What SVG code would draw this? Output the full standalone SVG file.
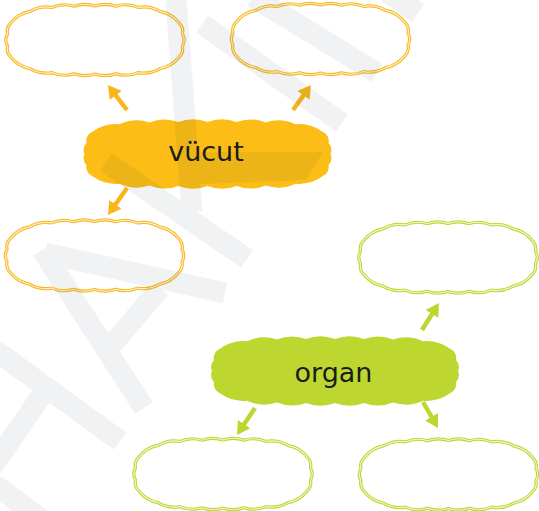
<svg xmlns="http://www.w3.org/2000/svg" xmlns:xlink="http://www.w3.org/1999/xlink" width="539" height="511" viewBox="0 0 539 511">
<style>
.oo{fill:#ffffff;stroke:#f6b61e;stroke-width:3.2;stroke-linejoin:round}
.oi{fill:none;stroke:#fff2c8;stroke-width:1.1;stroke-linejoin:round}
.go{fill:#ffffff;stroke:#bed62f;stroke-width:3.2;stroke-linejoin:round}
.gi{fill:none;stroke:#f1f7cf;stroke-width:1.1;stroke-linejoin:round}
.of{fill:#fbbd16}
.gf{fill:#bdd730}
.lbl{font-family:"DejaVu Sans","Liberation Sans",sans-serif;font-size:27px;fill:#1c1c1c;text-anchor:middle}
.ao{stroke:#f7b71c;stroke-width:4.5;fill:none}
.ag{stroke:#bfd632;stroke-width:4.5;fill:none}
.wm{fill:none;stroke:#0b1b3b;stroke-width:21;stroke-linecap:butt}
</style>
<defs>
<path id="cloudO" d="M-84,-17.2 A32,32 0 0 1 -65,-28.6 A32,32 0 0 1 -43,-32.6 A32,32 0 0 1 -21,-33.8 A32,32 0 0 1 0,-34 A32,32 0 0 1 21,-33.8 A32,32 0 0 1 43,-32.6 A32,32 0 0 1 65,-28.6 A32,32 0 0 1 84,-17.2 A12,12 0 0 1 87.5,-6 A12,12 0 0 1 87.5,6 A12,12 0 0 1 84,17.2 A32,32 0 0 1 65,28.6 A32,32 0 0 1 43,32.6 A32,32 0 0 1 21,33.8 A32,32 0 0 1 0,34 A32,32 0 0 1 -21,33.8 A32,32 0 0 1 -43,32.6 A32,32 0 0 1 -65,28.6 A32,32 0 0 1 -84,17.2 A12,12 0 0 1 -87.5,6 A12,12 0 0 1 -87.5,-6 A12,12 0 0 1 -84,-17.2 Z"/>
<path id="cloudF" d="M-115,-22.3 A40,40 0 0 1 -88,-29.7 A40,40 0 0 1 -58,-31.6 A40,40 0 0 1 -29,-32 A40,40 0 0 1 0,-32 A40,40 0 0 1 29,-32 A40,40 0 0 1 58,-31.6 A40,40 0 0 1 88,-29.7 A40,40 0 0 1 115,-22.3 A10,10 0 0 1 121,-11 A10,10 0 0 1 123,0 A10,10 0 0 1 121,11 A10,10 0 0 1 115,22.3 A40,40 0 0 1 88,29.7 A40,40 0 0 1 58,31.6 A40,40 0 0 1 29,32 A40,40 0 0 1 0,32 A40,40 0 0 1 -29,32 A40,40 0 0 1 -58,31.6 A40,40 0 0 1 -88,29.7 A40,40 0 0 1 -115,22.3 A10,10 0 0 1 -121,11 A10,10 0 0 1 -123,0 A10,10 0 0 1 -121,-11 A10,10 0 0 1 -115,-22.3 Z"/>
<marker id="headO" viewBox="0 0 13 15" refX="2" refY="7.5" markerWidth="13" markerHeight="15" markerUnits="userSpaceOnUse" orient="auto"><path d="M0,0 L13,7.5 L0,15 Z" fill="#f7b71c"/></marker>
<marker id="headG" viewBox="0 0 13 15" refX="2" refY="7.5" markerWidth="13" markerHeight="15" markerUnits="userSpaceOnUse" orient="auto"><path d="M0,0 L13,7.5 L0,15 Z" fill="#bfd632"/></marker>
</defs>

<g id="box-top-left" transform="translate(95,40)"><use xlink:href="#cloudO" href="#cloudO" class="oo"/><use xlink:href="#cloudO" href="#cloudO" class="oi"/></g>
<g id="box-top-right" transform="translate(320.5,39)"><use xlink:href="#cloudO" href="#cloudO" class="oo"/><use xlink:href="#cloudO" href="#cloudO" class="oi"/></g>
<g id="box-mid-left" transform="translate(94.5,255.5)"><use xlink:href="#cloudO" href="#cloudO" class="oo"/><use xlink:href="#cloudO" href="#cloudO" class="oi"/></g>
<g id="box-mid-right" transform="translate(448,257.5)"><use xlink:href="#cloudO" href="#cloudO" class="go"/><use xlink:href="#cloudO" href="#cloudO" class="gi"/></g>
<g id="box-bottom-left" transform="translate(223,474)"><use xlink:href="#cloudO" href="#cloudO" class="go"/><use xlink:href="#cloudO" href="#cloudO" class="gi"/></g>
<g id="box-bottom-right" transform="translate(448.5,474.5)"><use xlink:href="#cloudO" href="#cloudO" class="go"/><use xlink:href="#cloudO" href="#cloudO" class="gi"/></g>

<g id="node-vucut"><use xlink:href="#cloudF" href="#cloudF" class="of" transform="translate(207.5,154)"/><text class="lbl" x="206" y="161">vücut</text></g>
<g id="node-organ"><use xlink:href="#cloudF" href="#cloudF" class="gf" transform="translate(335,371)"/><text class="lbl" x="333.5" y="382">organ</text></g>

<g id="connectors">
<line class="ao" x1="127" y1="110" x2="114.6" y2="93.8" marker-end="url(#headO)"/>
<line class="ao" x1="293" y1="110" x2="304.6" y2="93.9" marker-end="url(#headO)"/>
<line class="ao" x1="127" y1="188" x2="114.3" y2="206" marker-end="url(#headO)"/>
<line class="ag" x1="422" y1="330" x2="433.1" y2="312.3" marker-end="url(#headG)"/>
<line class="ag" x1="255" y1="408" x2="243.1" y2="425.8" marker-end="url(#headG)"/>
<line class="ag" x1="423" y1="402" x2="432.5" y2="418.5" marker-end="url(#headG)"/>
</g>

<g id="watermark" opacity="0.05">
<line class="wm" x1="202" y1="24" x2="342" y2="123"/>
<line class="wm" x1="253" y1="-3" x2="377" y2="73"/>
<line class="wm" x1="370" y1="-20" x2="418" y2="13"/>
<line class="wm" x1="176" y1="0" x2="192" y2="212"/>
<line class="wm" x1="106" y1="162" x2="247" y2="259"/>
<polygon points="199,152 323,152 306,180 199,184" fill="#0b1b3b"/>
<line class="wm" x1="45" y1="253" x2="225" y2="293"/>
<line class="wm" x1="42" y1="250" x2="144" y2="408"/>
<line class="wm" x1="160" y1="288" x2="106" y2="352"/>
<line class="wm" x1="-5" y1="350" x2="120" y2="441"/>
<line class="wm" x1="42" y1="395" x2="-10" y2="470"/>
<line class="wm" x1="-5" y1="485" x2="45" y2="522"/>
</g>
</svg>
